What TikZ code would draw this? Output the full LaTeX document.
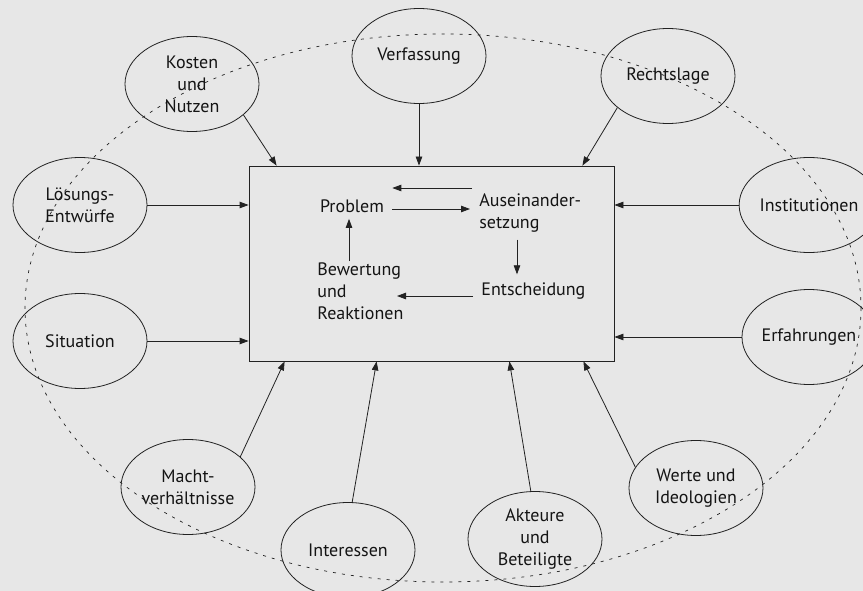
\documentclass[tikz,border=0pt]{standalone}
\usepackage{fontspec}
\setmainfont{PT Sans}
\usetikzlibrary{shapes.geometric,arrows.meta}
\definecolor{bg}{HTML}{E7E7E7}
\definecolor{lc}{HTML}{222222}
\tikzstyle{en} = [ellipse, draw=lc, minimum width=134pt, minimum height=95pt, align=center]
\tikzstyle{tn} = [align=left]
\tikzstyle{ar} = [draw=lc, -{Triangle[length=9pt,width=6.5pt]}]
\tikzstyle{every node}=[font=\fontsize{18}{22}\selectfont, inner sep=0pt, text=black!92]

\begin{document}
\begin{tikzpicture}[x=1pt, y=-1pt, line width=0.8pt]
  \fill[bg] (0,0) rectangle (863,591);
  \useasboundingbox (0,0) rectangle (863,591);
  % dashed ring
  \draw[lc, line width=0.7pt, dash pattern=on 3pt off 6pt] (443,308) ellipse [x radius=418, y radius=274];
  % central box
  \node[draw=lc, minimum width=365pt, minimum height=195pt] (bx) at (431.5,263.5) {};
  % outer ellipses
  \node[en] (kn) at (192,84) {Kosten\\und\\Nutzen};
  \node[en] (vf) at (419,56) {Verfassung};
  \node[en] (rl) at (668,76) {Rechtslage};
  \node[en] (le) at (80,205) {Lösungs-\\Entwürfe};
  \node[en] (in) at (809,205) {Institutionen};
  \node[en] (si) at (80,341) {Situation};
  \node[en] (ef) at (809,337) {Erfahrungen};
  \node[en] (mv) at (188,487) {Macht-\\verhältnisse};
  \node[en] (is) at (348,550) {Interessen};
  \node[en] (ab) at (535,539) {Akteure\\und\\Beteiligte};
  \node[en] (wi) at (696,488) {Werte und\\Ideologien};
  % inner cycle
  \node (pr) at (352,206) {Problem};
  \node[tn, anchor=west] (au) at (479,213) {Auseinander-\\setzung};
  \node[anchor=west] (es) at (481,291) {Entscheidung};
  \node[tn, anchor=west] (bw) at (317,291) {Bewertung\\und\\Reaktionen};
  % outer arrows
  \draw[ar] (kn.-31) -- ([xshift=28pt]bx.north west);
  \draw[ar] (vf.south) -- (vf.south |- bx.north);
  \draw[ar] (rl.-148) -- ([xshift=-32pt]bx.north east);
  \draw[ar] (le.east) -- (le.east -| bx.west);
  \draw[ar] (si.east) -- (si.east -| bx.west);
  \draw[ar] (in.west) -- (in.west -| bx.east);
  \draw[ar] (ef.west) -- (ef.west -| bx.east);
  \draw[ar] (mv.30) -- ([xshift=36pt]bx.south west);
  \draw[ar] (is.85) -- ([xshift=128pt]bx.south west);
  \draw[ar] (ab.95) -- ([xshift=-105pt]bx.south east);
  \draw[ar] (wi.161) -- ([xshift=-31pt]bx.south east);
  % inner arrows
  \draw[ar] ([xshift=8pt,yshift=-3pt]pr.east) -- ([xshift=-9pt,yshift=4pt]au.west);
  \draw[ar] ([xshift=-7pt,yshift=25pt]au.west) -- ([xshift=8pt,yshift=18pt]pr.east);
  \draw[ar] ([xshift=38pt,yshift=-7pt]au.south west) -- ([xshift=36pt,yshift=8pt]es.north west);
  \draw[ar] ([xshift=-8pt,yshift=-5pt]es.west) -- ([xshift=80pt,yshift=-5pt]bw.west);
  \draw[ar] ([xshift=32pt,yshift=1pt]bw.north west) -- ([xshift=-3pt,yshift=-6pt]pr.south);
\end{tikzpicture}
\end{document}
